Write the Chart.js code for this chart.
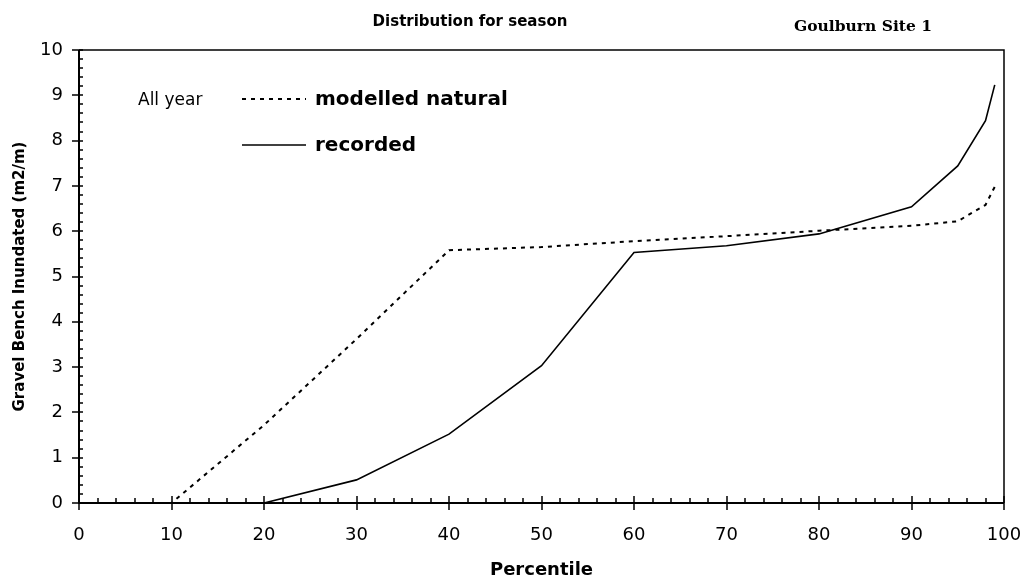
<!DOCTYPE html>
<html>
<head>
<meta charset="utf-8">
<script src="https://cdn.jsdelivr.net/npm/chart.js@4/dist/chart.umd.min.js"></script>
<style>
  html, body { margin: 0; padding: 0; background: #fff; }
  #chart { display: block; }
</style>
</head>
<body>
<canvas id="chart" width="1026" height="582"></canvas>
<script>
// percentiles and the two series
const percentiles = [0, 10, 20, 30, 40, 50, 60, 70, 80, 90, 95, 98, 99];
const modelledNatural = [0, 0, 1.72, 3.62, 5.58, 5.65, 5.78, 5.89, 6.01, 6.12, 6.22, 6.58, 6.98];
const recorded = [0, 0, 0, 0.51, 1.52, 3.03, 5.53, 5.68, 5.94, 6.54, 7.44, 8.44, 9.23];
const seriesNames = ["modelled natural", "recorded"];
const seasonLabel = "All year";

const toPts = (ys) => percentiles.map((x, i) => ({ x, y: ys[i] }));

// box, ticks crossing the axes, minor ticks
const framePlugin = {
  id: "frame",
  afterDraw(chart) {
    const { ctx, chartArea: a, scales: { x, y } } = chart;
    ctx.save();
    ctx.strokeStyle = "#000";
    ctx.lineWidth = 1.5;
    ctx.beginPath();
    ctx.moveTo(a.left, a.top); ctx.lineTo(a.right, a.top); ctx.lineTo(a.right, a.bottom);
    ctx.stroke();
    ctx.lineWidth = 2;
    ctx.beginPath();
    ctx.moveTo(a.left, a.top); ctx.lineTo(a.left, a.bottom); ctx.lineTo(a.right, a.bottom);
    ctx.stroke();
    ctx.lineWidth = 1.5;
    ctx.beginPath();
    for (let v = 0; v <= 100.001; v += 2) {
      const px = Math.round(x.getPixelForValue(v));
      if (Math.round(v) % 10 === 0) { ctx.moveTo(px, a.bottom - 7); ctx.lineTo(px, a.bottom + 7); }
      else { ctx.moveTo(px, a.bottom - 5); ctx.lineTo(px, a.bottom); }
    }
    for (let i = 0; i <= 50; i++) {
      const py = Math.round(y.getPixelForValue(i / 5));
      if (i % 5 === 0) { ctx.moveTo(a.left - 7, py); ctx.lineTo(a.left + 4, py); }
      else { ctx.moveTo(a.left, py); ctx.lineTo(a.left + 4, py); }
    }
    ctx.stroke();

    // titles
    ctx.fillStyle = "#000";
    ctx.textBaseline = "middle";
    ctx.textAlign = "center";
    ctx.font = "bold 15px 'DejaVu Sans'";
    ctx.fillText("Distribution for season", 470, 22);
    ctx.font = "bold 15.5px 'DejaVu Serif'";
    ctx.fillText("Goulburn Site 1", 863, 27);

    // legend
    const ds = chart.data.datasets;
    ctx.textAlign = "left";
    ctx.font = "17px 'DejaVu Sans'";
    ctx.fillText(seasonLabel, 138, 101);
    const rows = [99, 145];
    ds.forEach((d, i) => {
      ctx.strokeStyle = d.borderColor;
      ctx.lineWidth = d.borderWidth;
      ctx.setLineDash(d.borderDash || []);
      ctx.beginPath();
      ctx.moveTo(242, rows[i]); ctx.lineTo(306, rows[i]);
      ctx.stroke();
      ctx.setLineDash([]);
      ctx.font = "bold 20px 'DejaVu Sans'";
      ctx.fillText(d.label, 315, rows[i] + 1);
    });
    ctx.restore();
  }
};

new Chart(document.getElementById("chart"), {
  type: "scatter",
  data: {
    datasets: [
      { label: seriesNames[0], data: toPts(modelledNatural), showLine: true, borderColor: "#000",
        borderWidth: 2, borderDash: [4, 5], pointRadius: 0, tension: 0 },
      { label: seriesNames[1], data: toPts(recorded), showLine: true, borderColor: "#000",
        borderWidth: 1.6, pointRadius: 0, tension: 0 }
    ]
  },
  options: {
    responsive: false,
    devicePixelRatio: 1,
    animation: false,
    layout: { padding: { top: 50, right: 22, left: 0, bottom: 0 } },
    plugins: { legend: { display: false }, tooltip: { enabled: false } },
    scales: {
      x: {
        type: "linear", min: 0, max: 100,
        afterFit: (s) => { s.height = 79; s.paddingLeft = 0; s.paddingRight = 0; },
        grid: { display: false, drawTicks: false },
        border: { display: false },
        ticks: { stepSize: 10, color: "#000", padding: 22, maxRotation: 0,
          font: { family: "DejaVu Sans", size: 18 } },
        title: { display: true, text: "Percentile", color: "#000",
          font: { family: "DejaVu Sans", size: 18, weight: "bold" }, padding: { top: 0, bottom: 1 } }
      },
      y: {
        type: "linear", min: 0, max: 10,
        afterFit: (s) => { s.width = 79; s.paddingTop = 0; s.paddingBottom = 0; },
        grid: { display: false, drawTicks: false },
        border: { display: false },
        ticks: { stepSize: 1, color: "#000", padding: 16,
          font: { family: "DejaVu Sans", size: 18 } },
        title: { display: true, text: "Gravel Bench Inundated (m2/m)", color: "#000",
          font: { family: "DejaVu Sans", size: 15, weight: "bold" }, padding: { top: 11, bottom: 0 } }
      }
    }
  },
  plugins: [framePlugin]
});
</script>
</body>
</html>
